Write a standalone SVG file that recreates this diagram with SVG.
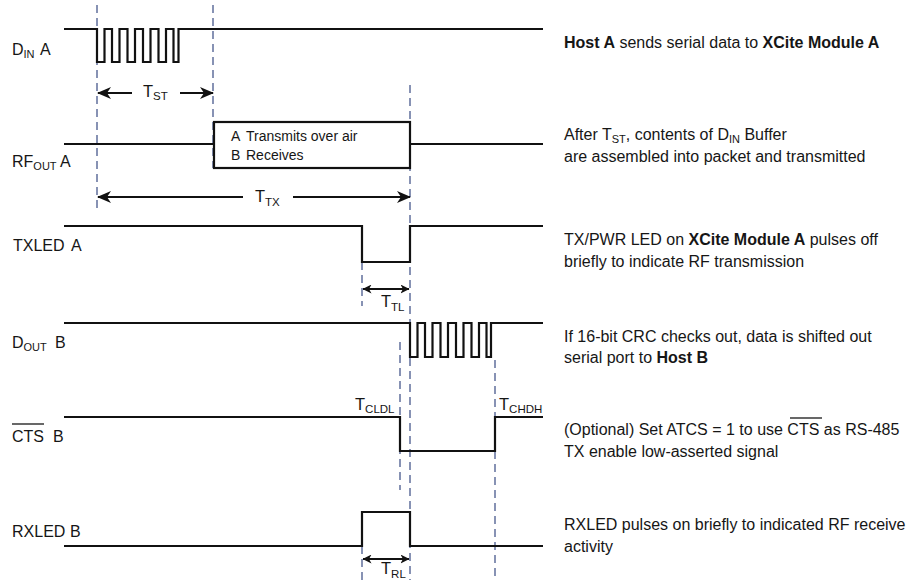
<svg xmlns="http://www.w3.org/2000/svg" width="920" height="580" viewBox="0 0 920 580">
<defs>
<style>
text{font-family:"Liberation Sans",Arial,sans-serif;fill:#161616}
.lbl{font-size:16px}
.sub{font-size:11px}
.tl{font-size:16.5px}
.tsub{font-size:11.5px}
.note{font-size:16px}
.b{font-weight:bold}
.box{font-size:14px}
.sig{fill:none;stroke:#111;stroke-width:2.2;stroke-linejoin:miter}
.dash{fill:none;stroke:#8792b4;stroke-width:2;stroke-dasharray:8 5}
.arr{fill:none;stroke:#111;stroke-width:2}
.ol{stroke:#161616;stroke-width:1.3}
</style>
<marker id="big" viewBox="0 0 14 12" refX="13" refY="6" markerWidth="14" markerHeight="12" markerUnits="userSpaceOnUse" orient="auto-start-reverse">
<path d="M0,0 L14,6 L0,12 L4,6 Z" fill="#111"/>
</marker>
<marker id="sm" viewBox="0 0 9 9" refX="8.5" refY="4.5" markerWidth="9" markerHeight="9" markerUnits="userSpaceOnUse" orient="auto-start-reverse">
<path d="M0,0 L9,4.5 L0,9 L2.5,4.5 Z" fill="#111"/>
</marker>
</defs>
<rect width="920" height="580" fill="#fff"/>

<g id="guides">
<line class="dash" x1="97" y1="5" x2="97" y2="210"/>
<line class="dash" x1="213" y1="5" x2="213" y2="168"/>
<line class="dash" x1="410" y1="85" x2="410" y2="580"/>
<line class="dash" x1="362" y1="262" x2="362" y2="306"/>
<line class="dash" x1="362" y1="546" x2="362" y2="580"/>
<line class="dash" x1="400" y1="342" x2="400" y2="490"/>
<line class="dash" x1="495" y1="360" x2="495" y2="580"/>
</g>

<g id="din-a">
<text class="lbl" x="12" y="55">D<tspan class="sub" dy="3">IN</tspan></text>
<text class="lbl" x="40" y="55">A</text>
<path class="sig" d="M64,29 H97 V62 H104.5 V29 H112 V62 H119.5 V29 H127.5 V62 H135 V29 H143 V62 H150.5 V29 H158.5 V62 H166 V29 H173.5 V62 H178.5 V29 H543"/>
</g>

<g id="rfout-a">
<text class="lbl" x="12" y="167">RF<tspan class="sub" dy="3">OUT</tspan></text>
<text class="lbl" x="60" y="167">A</text>
<path class="sig" d="M64,144 H214 M410,144 H543"/>
<rect class="sig" x="214" y="122" width="196" height="46"/>
<text class="box" x="231" y="141">A</text><text class="box" x="246" y="141">Transmits over air</text>
<text class="box" x="231" y="160">B</text><text class="box" x="246" y="160">Receives</text>
</g>

<g id="txled-a">
<text class="lbl" x="13" y="251">TXLED</text>
<text class="lbl" x="71" y="251">A</text>
<path class="sig" d="M64,226 H362 V262 H410 V226 H543"/>
</g>

<g id="dout-b">
<text class="lbl" x="12" y="348">D<tspan class="sub" dy="3">OUT</tspan></text>
<text class="lbl" x="55" y="348">B</text>
<path class="sig" d="M64,323 H410 V357 H417.5 V323 H425 V357 H432.5 V323 H440.5 V357 H448 V323 H456 V357 H463.5 V323 H471.5 V357 H479 V323 H486.5 V357 H491 V323 H543"/>
</g>

<g id="cts-b">
<text class="lbl" x="12" y="442">CTS</text>
<line class="ol" x1="12" y1="424" x2="44" y2="424"/>
<text class="lbl" x="53" y="442">B</text>
<path class="sig" d="M64,417 H400 V451 H495 V417 H543"/>
</g>

<g id="rxled-b">
<text class="lbl" x="12" y="537">RXLED</text>
<text class="lbl" x="70" y="537">B</text>
<path class="sig" d="M64,546 H362 V512 H410 V546 H543"/>
</g>

<g id="timing">
<line class="arr" x1="98" y1="93" x2="132" y2="93" marker-start="url(#big)"/>
<line class="arr" x1="180" y1="93" x2="213" y2="93" marker-end="url(#big)"/>
<text class="tl" x="143" y="97">T<tspan class="tsub" dy="3">ST</tspan></text>
<line class="arr" x1="98" y1="197" x2="243" y2="197" marker-start="url(#big)"/>
<line class="arr" x1="293" y1="197" x2="410" y2="197" marker-end="url(#big)"/>
<text class="tl" x="255" y="202">T<tspan class="tsub" dy="4">TX</tspan></text>
<line class="arr" x1="363" y1="289" x2="409" y2="289" marker-start="url(#sm)" marker-end="url(#sm)"/>
<text class="tl" x="381" y="307">T<tspan class="tsub" dy="4">TL</tspan></text>
<text class="tl" x="355" y="410">T<tspan class="tsub" dy="3">CLDL</tspan></text>
<text class="tl" x="499" y="410">T<tspan class="tsub" dy="3">CHDH</tspan></text>
<line class="arr" x1="363" y1="559" x2="409" y2="559" marker-start="url(#sm)" marker-end="url(#sm)"/>
<text class="tl" x="381" y="574">T<tspan class="tsub" dy="4">RL</tspan></text>
</g>

<g id="notes">
<text class="note" x="564" y="48"><tspan class="b">Host A</tspan> sends serial data to <tspan class="b">XCite Module A</tspan></text>
<text class="note" x="564" y="140">After T<tspan class="sub" dy="3">ST</tspan><tspan dy="-3">, contents of D</tspan><tspan class="sub" dy="3">IN</tspan><tspan dy="-3"> Buffer</tspan></text>
<text class="note" x="564" y="162">are assembled into packet and transmitted</text>
<text class="note" x="564" y="245">TX/PWR LED on <tspan class="b">XCite Module A</tspan> pulses off</text>
<text class="note" x="564" y="267">briefly to indicate RF transmission</text>
<text class="note" x="564" y="342">If 16-bit CRC checks out, data is shifted out</text>
<text class="note" x="564" y="363">serial port to <tspan class="b">Host B</tspan></text>
<text class="note" x="564" y="435">(Optional) Set ATCS = 1 to use CTS as RS-485</text>
<line class="ol" x1="790" y1="418" x2="822" y2="418"/>
<text class="note" x="564" y="457">TX enable low-asserted signal</text>
<text class="note" x="564" y="530">RXLED pulses on briefly to indicated RF receive</text>
<text class="note" x="564" y="552">activity</text>
</g>
</svg>
